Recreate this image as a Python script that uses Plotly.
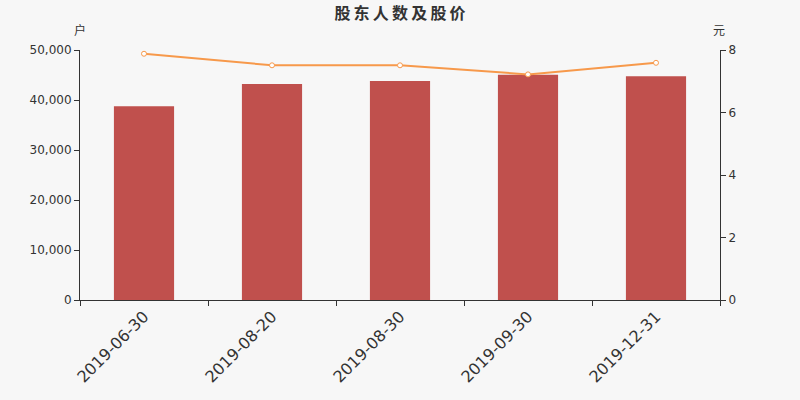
import plotly.graph_objects as go

categories = ["2019-06-30", "2019-08-20", "2019-08-30", "2019-09-30", "2019-12-31"]
holders = [38740, 43200, 43800, 45070, 44730]
prices = [7.88, 7.51, 7.51, 7.22, 7.59]
title_text = "股东人数及股价"

bar_color = "#c0504d"
line_color = "#f7994b"
text_color = "#333333"
font_family = "DejaVu Sans, Noto Sans CJK SC, sans-serif"

fig = go.Figure()
fig.add_trace(go.Bar(x=categories, y=holders, marker=dict(color=bar_color, line=dict(width=0)),
                     yaxis="y", name="股东人数"))
fig.add_trace(go.Scatter(x=categories, y=prices, mode="lines+markers", yaxis="y2", name="股价",
                         line=dict(color=line_color, width=2),
                         marker=dict(symbol="circle", size=5, color="white",
                                     line=dict(color=line_color, width=1))))

spaced_title = "\u2009".join(title_text)

fig.update_layout(
    width=800, height=400,
    paper_bgcolor="#f7f7f7", plot_bgcolor="#f7f7f7",
    margin=dict(l=80, r=80, t=50, b=100, autoexpand=False),
    showlegend=False,
    bargap=0.53,
    font=dict(family=font_family, color=text_color),
    title=dict(text="<b>" + spaced_title + "</b>", x=0.5, xanchor="center", y=0.967, yanchor="middle",
               font=dict(size=16, color=text_color, family="Noto Sans CJK SC, sans-serif")),
    xaxis=dict(type="category", showline=True, linecolor=text_color, linewidth=1, automargin=False,
               ticks="outside", tickson="boundaries", ticklen=5, tickcolor=text_color,
               tickangle=-45, tickfont=dict(size=16, color=text_color), showgrid=False),
    yaxis=dict(range=[0, 50000], tickvals=[0, 10000, 20000, 30000, 40000, 50000], automargin=False,
               tickformat=",d", showline=True, linecolor=text_color, linewidth=1,
               ticks="outside", ticklen=5, tickcolor=text_color, showgrid=False, zeroline=False,
               tickfont=dict(size=12, color=text_color)),
    yaxis2=dict(range=[0, 8], tickvals=[0, 2, 4, 6, 8], overlaying="y", side="right", automargin=False,
                showline=True, linecolor=text_color, linewidth=1, ticks="outside", ticklen=5,
                tickcolor=text_color, showgrid=False, zeroline=False,
                tickfont=dict(size=12, color=text_color)),
    annotations=[
        dict(text="户", xref="paper", yref="paper", x=0, y=1, xanchor="right", yanchor="bottom",
             xshift=8, yshift=10, showarrow=False,
             font=dict(size=12, color=text_color, family="Noto Sans CJK SC, sans-serif")),
        dict(text="元", xref="paper", yref="paper", x=1, y=1, xanchor="right", yanchor="bottom",
             xshift=7, yshift=10, showarrow=False,
             font=dict(size=12, color=text_color, family="Noto Sans CJK SC, sans-serif")),
    ],
)

fig.write_html("out.html", config={"displayModeBar": False},
               post_script="document.body.style.margin='0';document.body.style.background='#f7f7f7';")
